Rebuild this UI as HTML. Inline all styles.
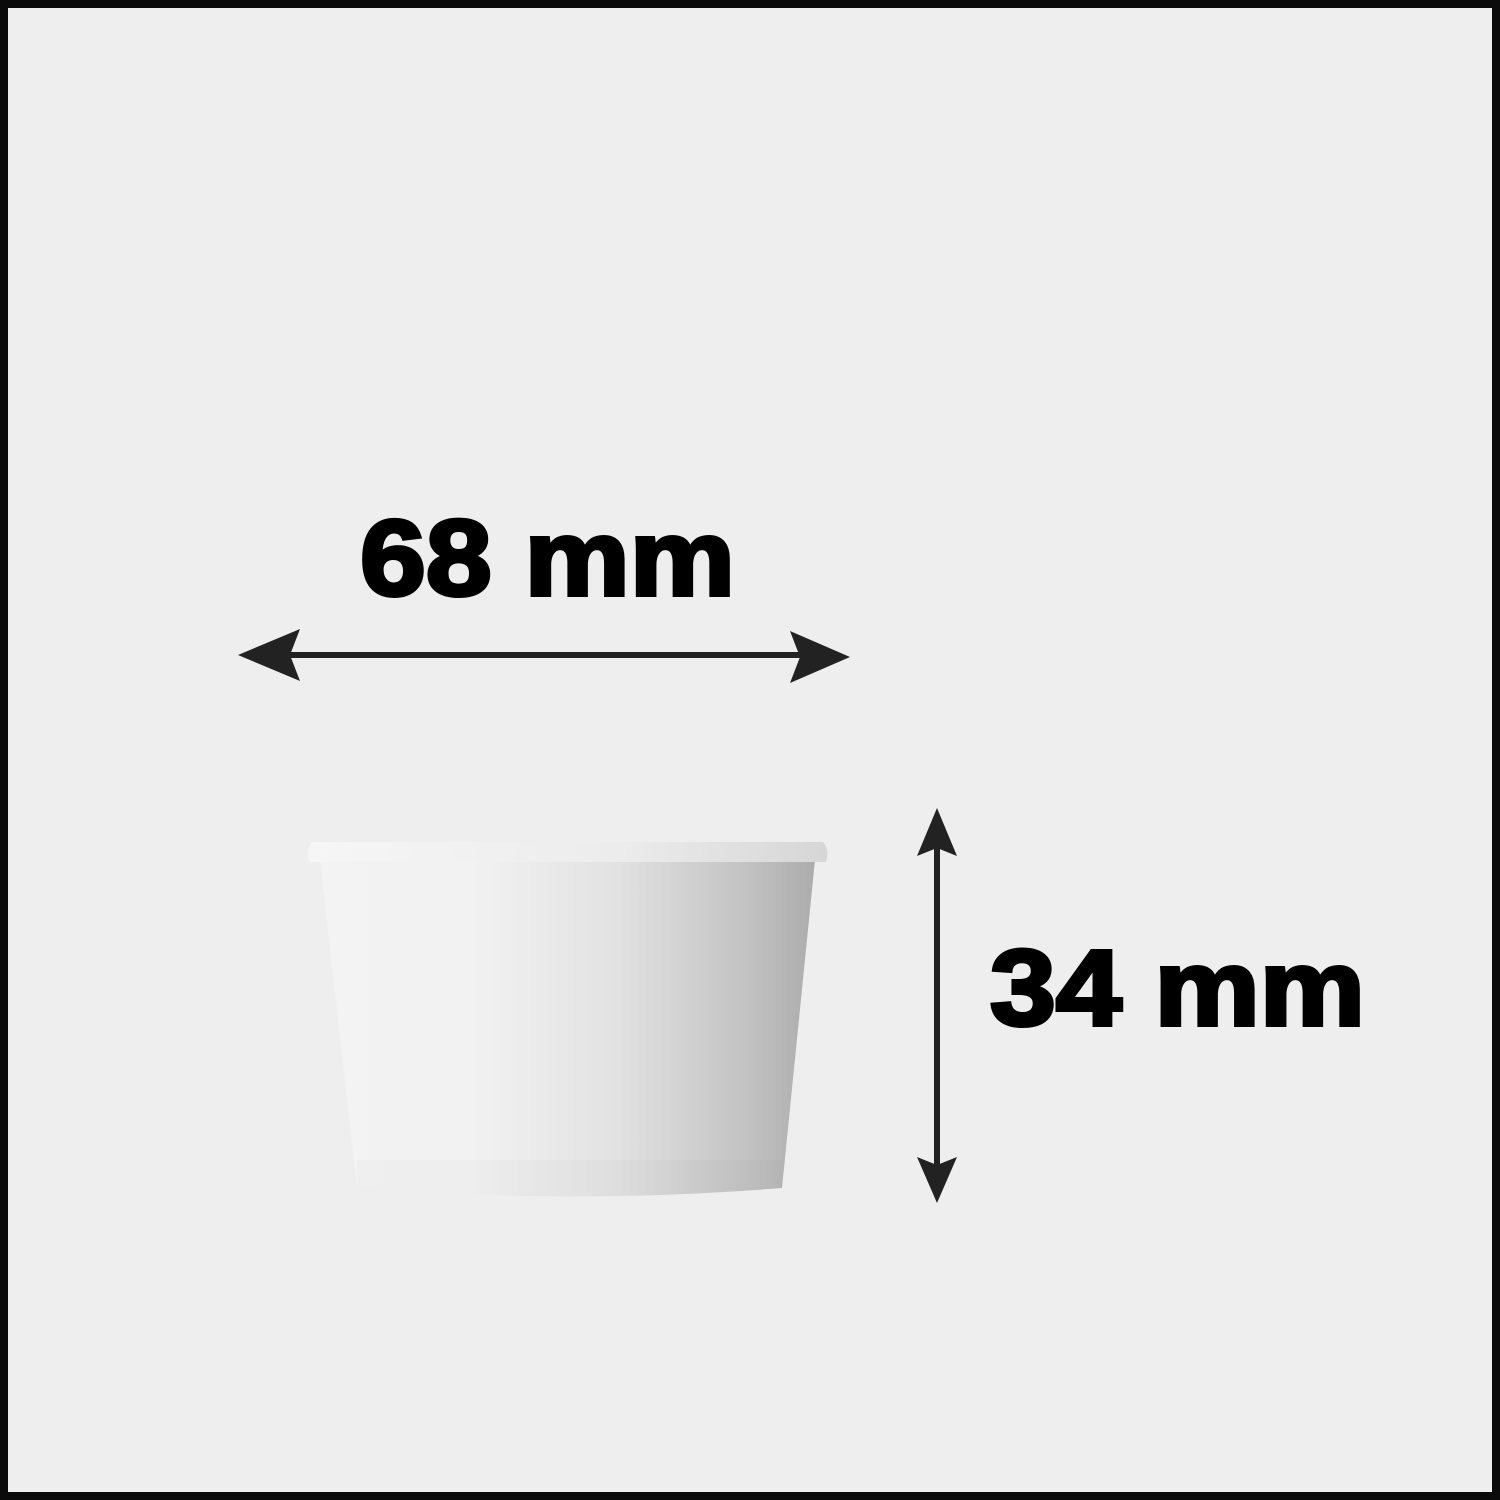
<!DOCTYPE html>
<html><head><meta charset="utf-8"><style>
html,body{margin:0;padding:0;width:1500px;height:1500px;overflow:hidden;background:#0b0b0b}
svg{display:block}
text{font-family:"Liberation Sans",sans-serif;font-weight:bold}
</style></head><body>
<svg width="1500" height="1500" viewBox="0 0 1500 1500">
<defs>
<linearGradient id="body" x1="0" x2="1" y1="0" y2="0">
<stop offset="0" stop-color="#f3f3f3"/><stop offset="0.3" stop-color="#f2f2f2"/>
<stop offset="0.6" stop-color="#e2e2e2"/><stop offset="0.85" stop-color="#c4c4c4"/><stop offset="1" stop-color="#acacac"/>
</linearGradient>
<linearGradient id="rim" x1="0" x2="1" y1="0" y2="0">
<stop offset="0" stop-color="#f6f6f6"/><stop offset="0.6" stop-color="#ececec"/><stop offset="1" stop-color="#d6d6d6"/>
</linearGradient>
</defs>
<rect x="8" y="8" width="1484" height="1484" fill="#eeeeee"/>
<g>
<path d="M320 860 L815 860 L782 1188 Q570 1205 357 1188 Z" fill="url(#body)"/>
<path d="M357 1160 L785 1160 L782 1188 Q570 1205 357 1188 Z" fill="#000" opacity="0.015"/>
<path d="M312 842 L823 842 Q830 850 826 862 L310 862 Q305 850 312 842 Z" fill="url(#rim)"/>
</g>
<g fill="#222" stroke="none">
<rect x="285" y="652" width="520" height="6"/>
<polygon points="238,655 300,629 290,655 300,681"/>
<polygon points="850,657 790,631 800,657 790,683"/>
</g>
<g fill="#222" stroke="none">
<rect x="934" y="845" width="6" height="320"/>
<polygon points="937,808 917,856 937,848 957,856"/>
<polygon points="937,1203 917,1157 937,1165 957,1157"/>
</g>
<text x="360" y="595" font-size="108" textLength="375" lengthAdjust="spacingAndGlyphs" fill="#000" stroke="#000" stroke-width="4">68 mm</text>
<text x="990" y="1025" font-size="108" textLength="375" lengthAdjust="spacingAndGlyphs" fill="#000" stroke="#000" stroke-width="4">34 mm</text>
</svg>
</body></html>
